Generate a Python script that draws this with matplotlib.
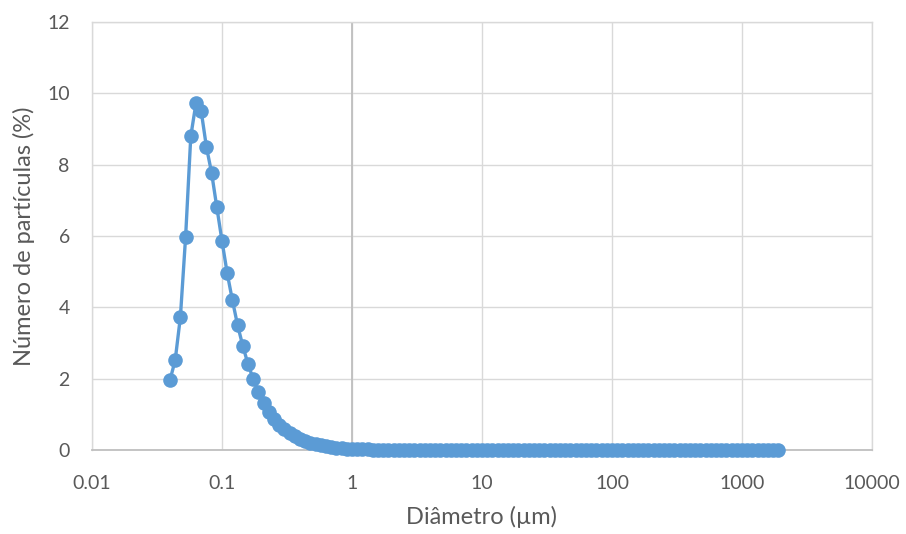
import matplotlib
matplotlib.use("Agg")
import matplotlib.pyplot as plt
from matplotlib.ticker import FixedLocator, FixedFormatter, NullLocator

plt.rcParams['font.family'] = ['Lato', 'DejaVu Sans']

# particle diameter (um) for each size class
diametro = [
    0.03981, 0.04365, 0.04786, 0.05248, 0.05754, 0.0631, 0.06918, 0.07586, 0.08318, 0.0912,
    0.1, 0.1096, 0.1202, 0.1318, 0.1445, 0.1585, 0.1738, 0.1905, 0.2089, 0.2291,
    0.2512, 0.2754, 0.302, 0.3311, 0.3631, 0.3981, 0.4365, 0.4786, 0.5248, 0.5754,
    0.631, 0.6918, 0.7586, 0.8318, 0.912,
    1.0, 1.096, 1.202, 1.318, 1.445, 1.585, 1.738, 1.905, 2.089, 2.291,
    2.512, 2.754, 3.02, 3.311, 3.631, 3.981, 4.365, 4.786, 5.248, 5.754,
    6.31, 6.918, 7.586, 8.318, 9.12,
    10.0, 10.96, 12.02, 13.18, 14.45, 15.85, 17.38, 19.05, 20.89, 22.91,
    25.12, 27.54, 30.2, 33.11, 36.31, 39.81, 43.65, 47.86, 52.48, 57.54,
    63.1, 69.18, 75.86, 83.18, 91.2,
    100.0, 109.6, 120.2, 131.8, 144.5, 158.5, 173.8, 190.5, 208.9, 229.1,
    251.2, 275.4, 302.0, 331.1, 363.1, 398.1, 436.5, 478.6, 524.8, 575.4,
    631.0, 691.8, 758.6, 831.8, 912.0,
    1000.0, 1096.0, 1202.0, 1318.0, 1445.0, 1585.0, 1738.0, 1905.0,
]

# number of particles (%)
numero = [
    1.96, 2.52, 3.73, 5.97, 8.80, 9.73, 9.50, 8.50, 7.77, 6.81,
    5.86, 4.96, 4.20, 3.50, 2.92, 2.41, 1.99, 1.63, 1.32, 1.07,
    0.87, 0.71, 0.58, 0.48, 0.40, 0.32, 0.26, 0.21, 0.17, 0.13,
    0.10, 0.08, 0.06, 0.05, 0.04,
    0.03, 0.025, 0.02, 0.015, 0.012, 0.01, 0.008, 0.006, 0.005, 0.004,
    0.003, 0.002, 0.002, 0.001, 0.001, 0.0, 0.0, 0.0, 0.0, 0.0,
    0.0, 0.0, 0.0, 0.0, 0.0,
    0.0, 0.0, 0.0, 0.0, 0.0, 0.0, 0.0, 0.0, 0.0, 0.0,
    0.0, 0.0, 0.0, 0.0, 0.0, 0.0, 0.0, 0.0, 0.0, 0.0,
    0.0, 0.0, 0.0, 0.0, 0.0,
    0.0, 0.0, 0.0, 0.0, 0.0, 0.0, 0.0, 0.0, 0.0, 0.0,
    0.0, 0.0, 0.0, 0.0, 0.0, 0.0, 0.0, 0.0, 0.0, 0.0,
    0.0, 0.0, 0.0, 0.0, 0.0,
    0.0, 0.0, 0.0, 0.0, 0.0, 0.0, 0.0, 0.0,
]

x_ticks = [0.01, 0.1, 1, 10, 100, 1000, 10000]
x_labels = ['0.01', '0.1', '1', '10', '100', '1000', '10000']
y_ticks = [0, 2, 4, 6, 8, 10, 12]

azul = '#5B9BD5'
grelha = '#D9D9D9'
texto = '#595959'

fig = plt.figure(figsize=(9.06, 5.34), dpi=100)
ax = fig.add_axes([92 / 906, 1 - 450 / 534, 780 / 906, 428 / 534])

ax.set_xscale('log')
ax.set_xlim(0.01, 10000)
ax.set_ylim(0, 12)

ax.xaxis.set_major_locator(FixedLocator(x_ticks))
ax.xaxis.set_major_formatter(FixedFormatter(x_labels))
ax.xaxis.set_minor_locator(NullLocator())
ax.set_yticks(y_ticks)

ax.grid(True, color=grelha, linewidth=1.0)
ax.set_axisbelow(True)
for side in ['top', 'right', 'left']:
    ax.spines[side].set_color(grelha)
    ax.spines[side].set_linewidth(1.0)
ax.spines['bottom'].set_color('#BFBFBF')
ax.spines['bottom'].set_linewidth(1.3)
# vertical axis crosses at 1 (Excel default for log axis)
ax.axvline(1, color='#BFBFBF', linewidth=1.3, zorder=1)

ax.tick_params(length=0, labelsize=14, labelcolor=texto)
ax.tick_params(axis='y', pad=16)
ax.tick_params(axis='x', pad=18)

ax.plot(diametro, numero, color=azul, linewidth=2.4, marker='o',
        markersize=10.5, markeredgewidth=0, clip_on=False, zorder=3)

ax.set_xlabel('Diâmetro (µm)', fontsize=17, color=texto, labelpad=10)
ax.set_ylabel('Número de partículas (%)', fontsize=17, color=texto, labelpad=9)

fig.savefig('out.png', dpi=100)
